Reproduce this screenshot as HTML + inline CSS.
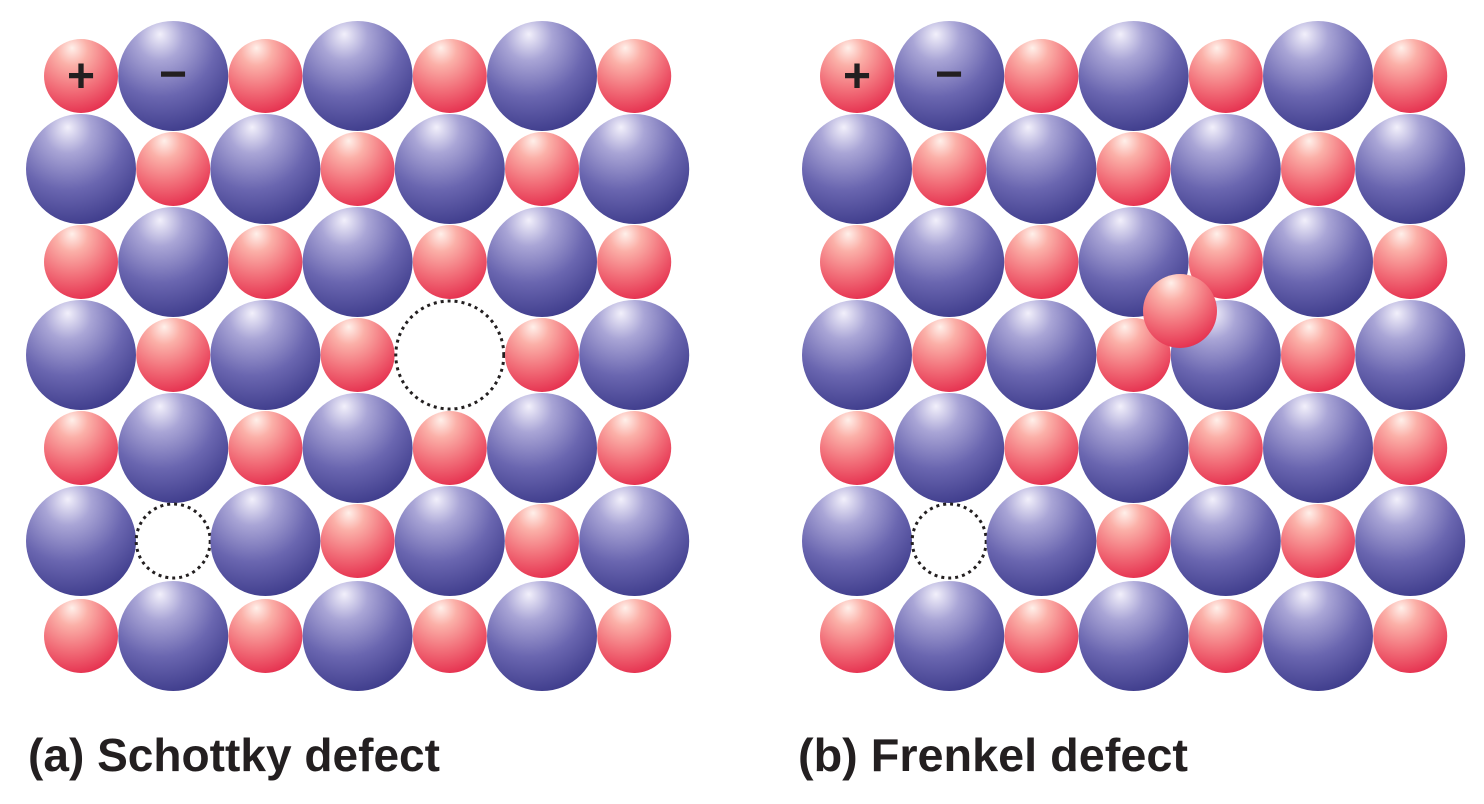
<!DOCTYPE html>
<html><head><meta charset="utf-8">
<style>
html,body{margin:0;padding:0;background:#fff;}
svg{display:block}
text{font-family:"Liberation Sans",sans-serif;font-weight:bold;fill:#231f20}
</style></head>
<body>
<svg id="s" width="1484" height="804" viewBox="0 0 1484 804" xmlns="http://www.w3.org/2000/svg">
<defs>
<radialGradient id="gb" cx="0.38" cy="0.22" r="0.85" fx="0.38" fy="0.12">
<stop offset="0" stop-color="#f2f0fb"/>
<stop offset="0.25" stop-color="#a9a5d6"/>
<stop offset="0.6" stop-color="#6a66b0"/>
<stop offset="1" stop-color="#3a3888"/>
</radialGradient>
<radialGradient id="gr" cx="0.38" cy="0.22" r="0.85" fx="0.38" fy="0.12">
<stop offset="0" stop-color="#fff0ea"/>
<stop offset="0.25" stop-color="#fbb0a8"/>
<stop offset="0.6" stop-color="#f2707a"/>
<stop offset="1" stop-color="#e4294a"/>
</radialGradient>
</defs>
<g id="g"></g>
<text x="28" y="771" font-size="46" textLength="412" lengthAdjust="spacingAndGlyphs">(a) Schottky defect</text>
<text x="798" y="771" font-size="46" textLength="390" lengthAdjust="spacingAndGlyphs">(b) Frenkel defect</text>
</svg>
<script>
var g=document.getElementById('g'),h='';
function c(x,y,r,f){h+='<circle cx="'+x+'" cy="'+y+'" r="'+r+'" fill="url(#'+f+')"/>';}
function d(x,y,r){h+='<circle cx="'+x+'" cy="'+y+'" r="'+r+'" fill="none" stroke="#231f20" stroke-width="3" stroke-dasharray="3,4"/>';}
var rows=[76,169,262,355,448,541,636];
[[81,'a'],[857,'b']].forEach(function(p){
 for(var i=0;i<7;i++)for(var j=0;j<7;j++){
  var x=p[0]+j*92.2,y=rows[i],red=((i+j)%2==0);
  var r=red?37:55;
  if(p[1]=='a'&&i==3&&j==4){d(x,y,54);continue;}
  if(i==5&&j==1){d(x,y,37);continue;}
  c(x,y,r,red?'gr':'gb');
 }
});
c(1180,311,37,'gr');
h+='<text x="81" y="92" font-size="48" text-anchor="middle">+</text>';
h+='<text x="173" y="90" font-size="48" text-anchor="middle">−</text>';
h+='<text x="857" y="92" font-size="48" text-anchor="middle">+</text>';
h+='<text x="949" y="90" font-size="48" text-anchor="middle">−</text>';
g.innerHTML=h;
</script>
</body></html>
